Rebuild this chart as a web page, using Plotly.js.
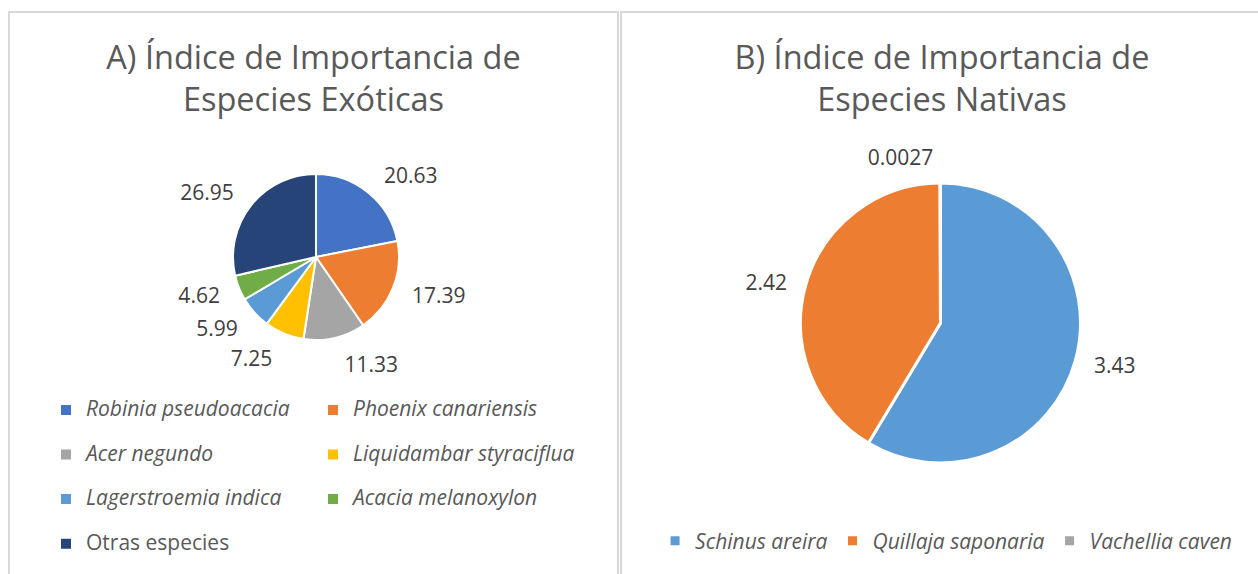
<!DOCTYPE html>
<html>
<head>
<meta charset="utf-8">
<script src="https://cdn.plot.ly/plotly-3.0.1.min.js"></script>
<style>
  html, body { margin: 0; padding: 0; background: #ffffff; width: 1258px; height: 574px; overflow: hidden; position: relative; }
  .panel { position: absolute; border: 2px solid #d9d9d9; background: #fff; }
  #panelA { left: 8px; top: 11px; width: 607px; height: 600px; }
  #panelB { left: 620px; top: 11px; width: 656px; height: 600px; }
</style>
</head>
<body>
<div class="panel" id="panelA"><div id="chartA"></div></div>
<div class="panel" id="panelB"><div id="chartB"></div></div>
<script>
// ---- Data ----
const titleA = 'A) Índice de Importancia de<br>Especies Exóticas';
const labelsA = ['Robinia pseudoacacia', 'Phoenix canariensis', 'Acer negundo', 'Liquidambar styraciflua', 'Lagerstroemia indica', 'Acacia melanoxylon', 'Otras especies'];
const valuesA = [20.63, 17.39, 11.33, 7.25, 5.99, 4.62, 26.95];
const colorsA = ['#4472C4', '#ED7D31', '#A5A5A5', '#FFC000', '#5B9BD5', '#70AD47', '#264478'];
const italicA = [true, true, true, true, true, true, false];

const titleB = 'B) Índice de Importancia de<br>Especies Nativas';
const labelsB = ['Schinus areira', 'Quillaja saponaria', 'Vachellia caven'];
const valuesB = [3.43, 2.42, 0.0027];
const colorsB = ['#5B9BD5', '#ED7D31', '#A5A5A5'];

// ---- Styling ----
const FONT = 'Open Sans, Noto Sans, sans-serif';
const titleFont = { family: FONT, size: 32.5, color: '#595959' };
const labelFont = { family: FONT, size: 21, color: '#404040' };
const clear = 'rgba(0,0,0,0)';

// Legend A: 2 columns, tall rows (second empty line gives Excel-like row spacing)
const legendLabelsA = labelsA.map((l, i) => {
  const t = italicA[i] ? '<i>' + l + '</i>' : l;
  return '<span style="font-size:21px">' + t + '</span><br> ';
});

const domA = { x: [0.3394, 0.6406], y: [0.455, 0.7317] };
const domAlabels = { x: [0.3158, 0.6642], y: [0.4333, 0.7533] };

const traceA = {
  type: 'pie', name: 'Exóticas',
  labels: legendLabelsA, values: valuesA,
  sort: false, direction: 'clockwise', rotation: 0,
  marker: { colors: colorsA, line: { color: '#ffffff', width: 2 } },
  textinfo: 'none', hoverinfo: 'skip',
  domain: domA
};
// value labels, placed a little outside the pie as in Excel
const traceAlabels = {
  type: 'pie', name: 'Exóticas (valores)',
  labels: legendLabelsA, values: valuesA,
  sort: false, direction: 'clockwise', rotation: 0,
  marker: { colors: valuesA.map(() => clear), line: { width: 0 } },
  textposition: 'outside', texttemplate: '%{value}', textfont: labelFont,
  hoverinfo: 'skip', showlegend: false,
  domain: domAlabels
};

const layoutA = {
  width: 607, height: 600,
  margin: { l: 36, r: 20, t: 0, b: 0, autoexpand: false },
  paper_bgcolor: '#ffffff',
  font: { family: FONT, color: '#595959' },
  title: { text: titleA, font: titleFont, x: 0.5, xref: 'container', xanchor: 'center', y: 1 - 56 / 600, yref: 'container', yanchor: 'top' },
  showlegend: true,
  legend: {
    orientation: 'h', x: 0, xanchor: 'left', y: 1 - 380 / 600, yanchor: 'top',
    entrywidth: 222, entrywidthmode: 'pixels', valign: 'top',
    font: { family: FONT, size: 16, color: '#595959' },
    bgcolor: clear
  }
};

const legendLabelsB = labelsB.map(l => '<i>' + l + '</i>');
const domB = { x: [0.2721, 0.6989], y: [0.25, 0.7167] };
const domBlabels = { x: [0.2538, 0.7172], y: [0.23, 0.7366] };

const traceB = {
  type: 'pie', name: 'Nativas',
  labels: legendLabelsB, values: valuesB,
  sort: false, direction: 'clockwise', rotation: 0,
  marker: { colors: colorsB, line: { color: '#ffffff', width: 3 } },
  textinfo: 'none', hoverinfo: 'skip',
  domain: domB
};
const traceBlabels = {
  type: 'pie', name: 'Nativas (valores)',
  labels: legendLabelsB, values: valuesB,
  sort: false, direction: 'clockwise', rotation: 0,
  marker: { colors: valuesB.map(() => clear), line: { width: 0 } },
  textposition: 'outside', texttemplate: '%{value}', textfont: labelFont,
  hoverinfo: 'skip', showlegend: false,
  domain: domBlabels
};

const layoutB = {
  width: 656, height: 600,
  margin: { l: 0, r: 0, t: 0, b: 0, autoexpand: false },
  paper_bgcolor: '#ffffff',
  font: { family: FONT, color: '#595959' },
  title: { text: titleB, font: titleFont, x: 0.4878, xref: 'container', xanchor: 'center', y: 1 - 56 / 600, yref: 'container', yanchor: 'top' },
  showlegend: true,
  legend: {
    orientation: 'h', x: 0.494, xanchor: 'center', y: 0.12, yanchor: 'middle',
    font: { family: FONT, size: 21, color: '#595959' },
    bgcolor: clear
  }
};

Plotly.newPlot('chartA', [traceA, traceAlabels], layoutA, { displayModeBar: false, staticPlot: true });
Plotly.newPlot('chartB', [traceB, traceBlabels], layoutB, { displayModeBar: false, staticPlot: true });
</script>
</body>
</html>
